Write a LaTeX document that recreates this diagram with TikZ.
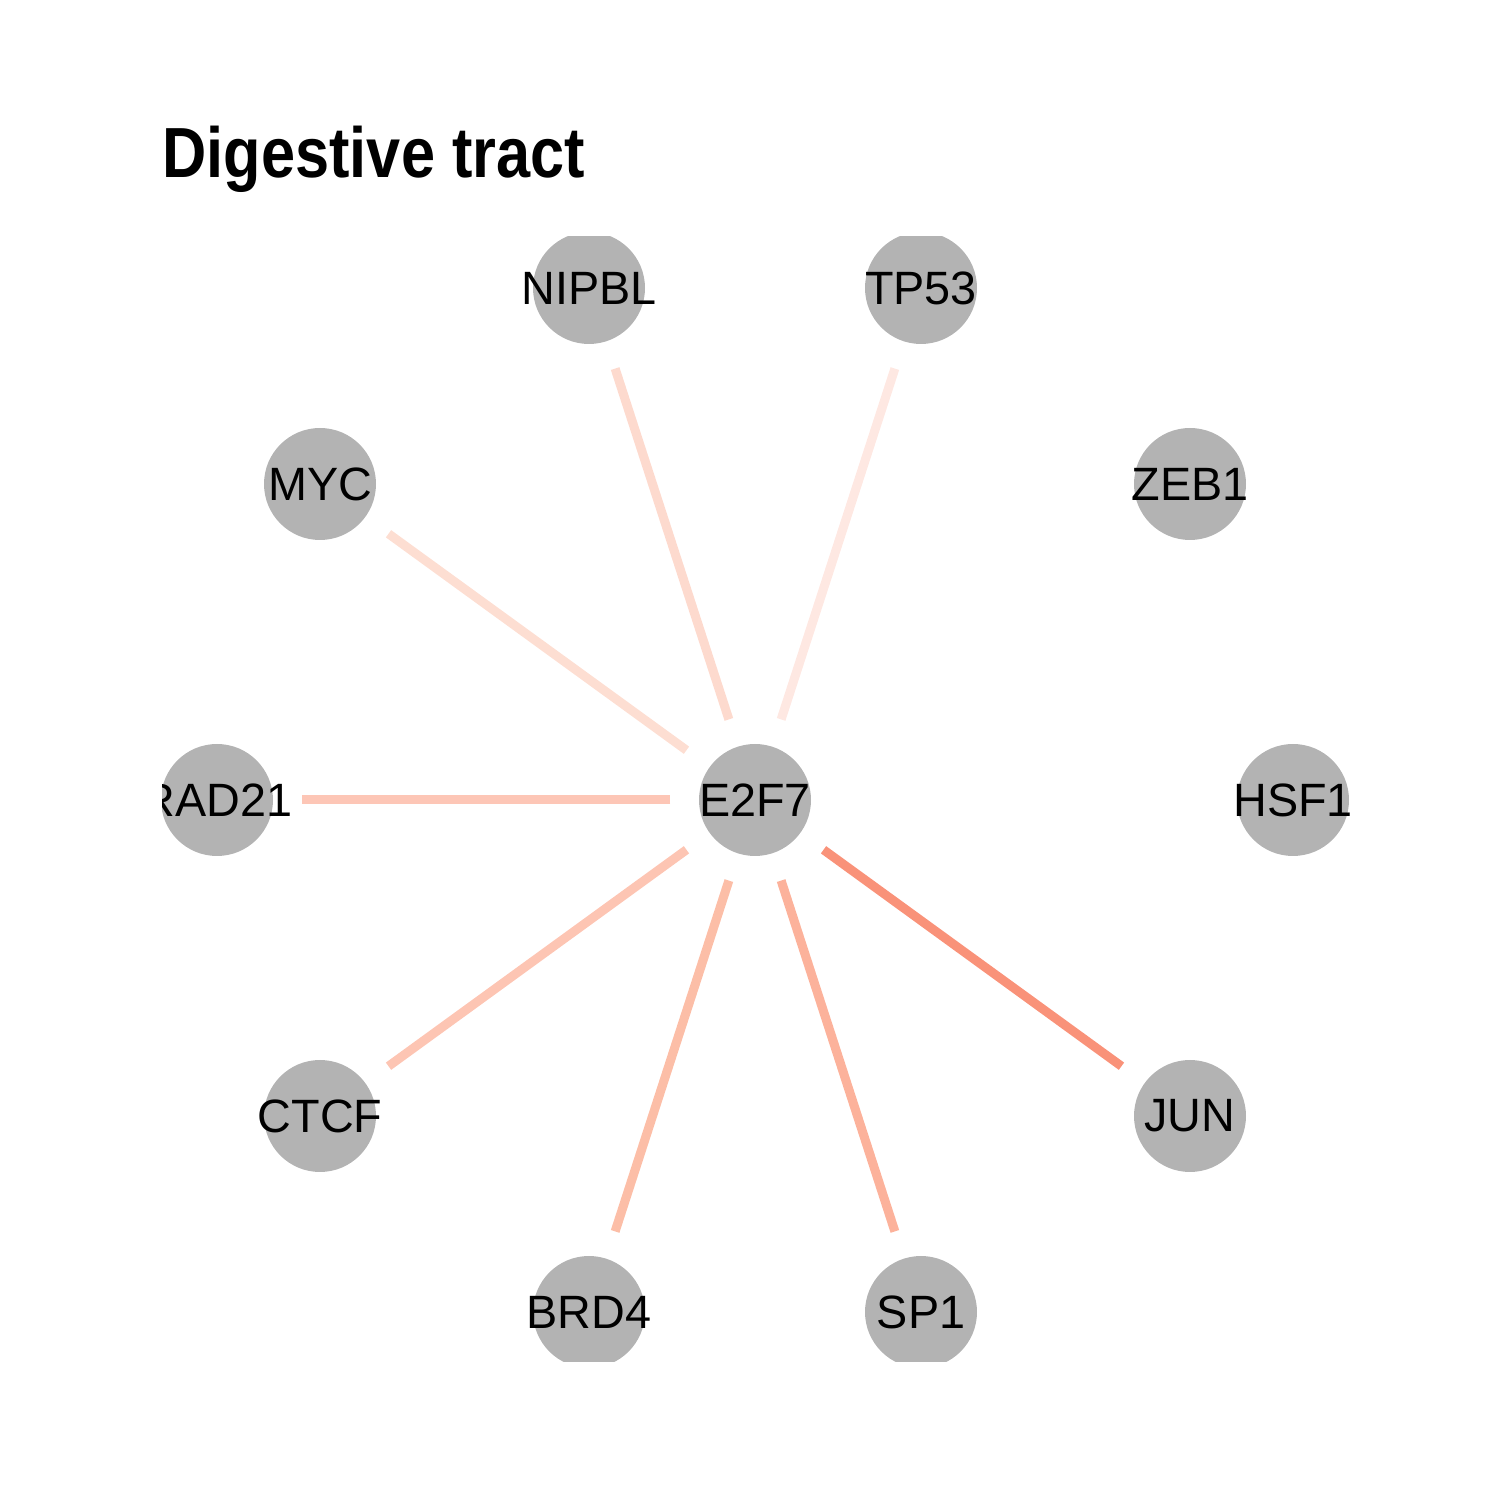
\documentclass[tikz,border=0pt]{standalone}
\usepackage{fontspec}
\setmainfont{Liberation Sans}
\usepackage{xcolor}
\definecolor{nodegray}{RGB}{179,179,179}
\definecolor{edgetp}{RGB}{254,232,226}
\definecolor{edgemyc}{RGB}{253,222,210}
\definecolor{edgenip}{RGB}{253,218,206}
\definecolor{edgerad}{RGB}{253,198,182}
\definecolor{edgectcf}{RGB}{253,197,179}
\definecolor{edgebrd}{RGB}{252,190,167}
\definecolor{edgesp}{RGB}{252,178,155}
\definecolor{edgejun}{RGB}{249,146,121}
\usetikzlibrary{positioning}

\begin{document}
\begin{tikzpicture}[
  gene/.style={circle,fill=nodegray,minimum size=1.12cm,inner sep=0pt,
    font=\fontsize{13.3}{15}\selectfont},
  edge/.style={line width=0.09cm,shorten >=0.28cm,shorten <=0.28cm}
]
  \useasboundingbox (0,0) rectangle (15,15);
  % Title
  \node[anchor=base west,inner sep=0pt,font=\fontsize{20.2}{24}\selectfont\bfseries]
    (title) at (1.62,13.22) {\scalebox{0.863}[1]{Digestive tract}};
  \begin{scope}
    \clip (1.62,1.38) rectangle (13.50,12.63);
    % Hub
    \node[gene] (e2f7) at (7.55,7.00) {\makebox[0pt]{E2F7}};
    % Ring of genes
    \node[gene] (hsf1) at (12.93,7.00) {\makebox[0pt]{HSF1}};
    \node[gene] (zeb1) at (11.90,10.16) {\makebox[0pt]{ZEB1}};
    \node[gene] (tp53) at (9.21,12.12) {\makebox[0pt]{TP53}};
    \node[gene] (nipbl) at (5.89,12.12) {\makebox[0pt]{NIPBL}};
    \node[gene] (myc) at (3.20,10.16) {\makebox[0pt]{MYC}};
    \node[gene] (rad21) at (2.17,7.00) {\makebox[0pt]{RAD21}};
    \node[gene] (ctcf) at (3.20,3.84) {\makebox[0pt]{CTCF}};
    \node[gene] (brd4) at (5.89,1.88) {\makebox[0pt]{BRD4}};
    \node[gene] (sp1) at (9.21,1.88) {\makebox[0pt]{SP1}};
    \node[gene] (jun) at (11.90,3.84) {\makebox[0pt]{JUN}};
    % Edges from the hub
    \draw[edge,edgetp] (e2f7) -- (tp53);
    \draw[edge,edgenip] (e2f7) -- (nipbl);
    \draw[edge,edgemyc] (e2f7) -- (myc);
    \draw[edge,edgerad] (e2f7) -- (rad21);
    \draw[edge,edgectcf] (e2f7) -- (ctcf);
    \draw[edge,edgebrd] (e2f7) -- (brd4);
    \draw[edge,edgesp] (e2f7) -- (sp1);
    \draw[edge,edgejun] (e2f7) -- (jun);
  \end{scope}
\end{tikzpicture}
\end{document}
